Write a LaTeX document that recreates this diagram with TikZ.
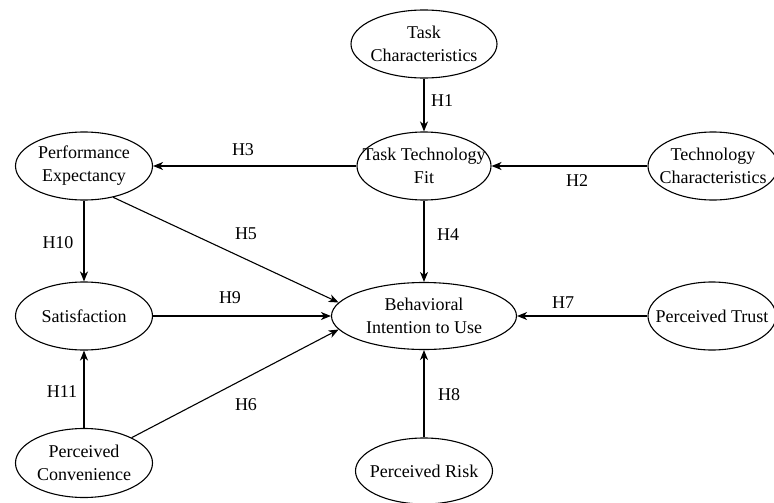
\documentclass[tikz,border=0pt]{standalone}
\usepackage{fontspec}
\setmainfont{Liberation Serif}
\usetikzlibrary{shapes.geometric,arrows.meta}
\tikzset{
    construct/.style={ellipse,draw,line width=1.1pt,inner sep=0pt,
        minimum width=137pt,minimum height=68pt,
        label={[align=center]center:#1}},  % text sits on top of the ellipse
    hyp/.style={-{Stealth[length=10pt,width=8pt,inset=3pt]},line width=1.1pt}
}

\begin{document}
\begin{tikzpicture}[x=1pt,y=-1pt,font=\rmfamily\fontsize{18}{23}\selectfont]
    \useasboundingbox (0,0) rectangle (774,503);
    \node[construct={Task\\Characteristics},minimum width=146pt] (tc) at (424,44) {};
    \node[construct={Task Technology\\Fit},minimum width=134pt] (ttf) at (424,166) {};
    \node[construct={Performance\\Expectancy}] (pe) at (84,166) {};
    \node[construct={Technology\\Characteristics},minimum width=130pt] (techc) at (713,166) {};
    \node[construct=Satisfaction] (sat) at (84,316) {};
    \node[construct={Behavioral\\Intention to Use},minimum width=185pt,minimum height=67pt] (bi) at (424,316) {};
    \node[construct={Perceived Trust},minimum width=128pt] (trust) at (712,316) {};
    \node[construct={Perceived\\Convenience},minimum height=69pt] (conv) at (84,463) {};
    \node[construct={Perceived Risk},minimum height=66pt] (risk) at (424,471) {};

    \draw[hyp] (tc) -- (ttf);
    \draw[hyp] (techc) -- (ttf);
    \draw[hyp] (ttf) -- (pe);
    \draw[hyp] (pe) -- (sat);
    \draw[hyp] (pe.-47) -- (bi.171);
    \draw[hyp] (ttf) -- (bi);
    \draw[hyp] (sat) -- (bi);
    \draw[hyp] (trust) -- (bi);
    \draw[hyp] (conv) -- (sat);
    \draw[hyp] (conv.28) -- (bi.-171);
    \draw[hyp] (risk) -- (bi);

    \foreach \n/\x/\y in {1/442/101,2/577/181,3/243/150,4/448/235,5/246/234,6/246/405,
                          7/563/303,8/449/395,9/230/298,10/58/243,11/62/392}
    {
        \node (h\n) at (\x,\y) {H\n};
    }
\end{tikzpicture}
\end{document}
